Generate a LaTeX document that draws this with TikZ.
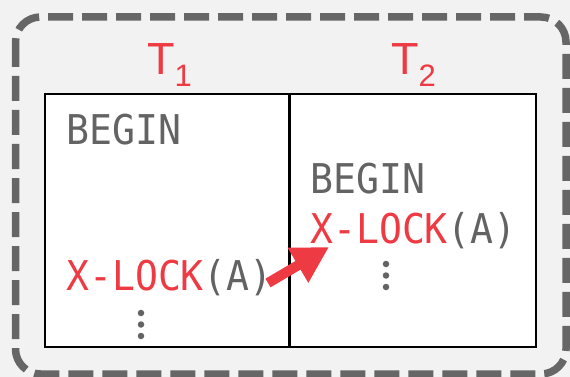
\documentclass[tikz,border=0pt]{standalone}
\usepackage{fontspec}
\setmainfont{Liberation Sans}
\newfontfamily\codefont{DejaVu Sans Mono}[FakeStretch=0.93]
\usetikzlibrary{arrows.meta}
\definecolor{bg}{HTML}{F2F2F2}
\definecolor{frame}{HTML}{666666}
\definecolor{code}{HTML}{636363}
\definecolor{hot}{HTML}{EE3B43}
\tikzset{
  code/.style={anchor=base west, inner sep=0pt, text=code,
    font=\codefont\fontsize{41}{41}\selectfont},
  txn/.style={anchor=base west, inner sep=0pt, text=hot,
    font=\fontsize{45}{45}\selectfont},
  vdot/.style={circle, fill=code, inner sep=0pt, minimum size=6.5pt},
  lockarrow/.style={draw=hot, line width=10pt,
    -{Triangle[length=36pt, width=38pt]}},
}
\newcommand{\hl}[1]{\textcolor{hot}{#1}}
\begin{document}
\begin{tikzpicture}[x=1pt, y=-1pt]
  % canvas
  \fill[bg] (0,0) rectangle (570,377);
  \useasboundingbox (0,0) rectangle (570,377);
  % dashed outer frame
  \draw[frame, line width=7.5pt, dash pattern=on 25pt off 9pt,
        rounded corners=25pt] (15.5,17) rectangle (566,374);
  % schedule table
  \draw[fill=white, line width=2.2pt] (45,94) rectangle (536,347);
  \draw[line width=2.2pt] (289.5,94) -- (289.5,347);
  % transaction headers
  \node[txn] (t1) at (147,75) {T\raisebox{-12pt}{\fontsize{31}{31}\selectfont 1}};
  \node[txn] (t2) at (391,75) {T\raisebox{-12pt}{\fontsize{31}{31}\selectfont 2}};
  % T1 column
  \node[code] (b1) at (66,145) {BEGIN};
  \node[code] (x1) at (66,290) {\hl{X-LOCK}(A)};
  \node[vdot] (d1a) at (141,313) {};
  \node[vdot] (d1b) at (141,324.5) {};
  \node[vdot] (d1c) at (141,336) {};
  % T2 column
  \node[code] (b2) at (310,193) {BEGIN};
  \node[code] (x2) at (310,243) {\hl{X-LOCK}(A)};
  \node[vdot] (d2a) at (386,264) {};
  \node[vdot] (d2b) at (386,275.5) {};
  \node[vdot] (d2c) at (386,287) {};
  % lock hand-off
  \coordinate (from) at (268,283);
  \coordinate (to) at (329,247);
  \draw[lockarrow] (from) -- (to);
\end{tikzpicture}
\end{document}
